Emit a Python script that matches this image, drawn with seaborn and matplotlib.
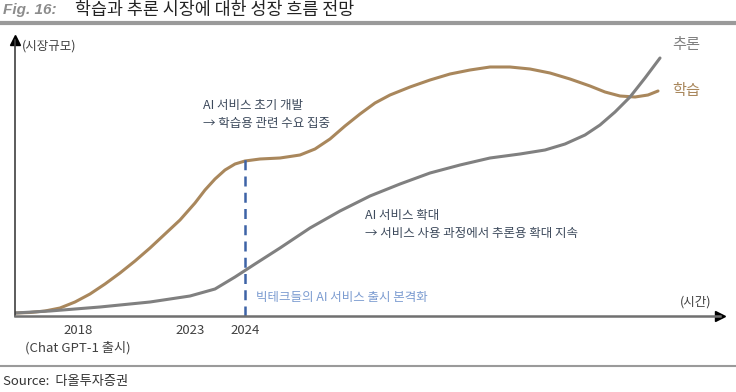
import pandas as pd
import matplotlib.pyplot as plt
import seaborn as sns

# 곡선 데이터 (상대적 시장규모, 임의 단위)
learn_x = [0, 15, 30, 45, 60, 75, 90, 105, 120, 135, 150, 165, 180, 190, 200, 210, 220, 230, 245, 265, 285,
           300, 315, 330, 345, 360, 375, 395, 415, 435, 455, 475, 495, 515, 535, 555, 575, 590, 605, 620, 633, 643]
learn_y = [3, 3.5, 5, 8, 14, 22, 32, 43, 55, 68, 82, 96, 113, 126, 137, 146, 152, 155, 157, 158, 161,
           167, 177, 190, 202, 213, 221, 229, 236, 242, 246, 249, 249, 247, 243, 237, 230, 224, 220, 219, 221, 225]
infer_x = [0, 35, 85, 135, 175, 200, 220, 240, 265, 295, 325, 355, 385, 415, 445, 475, 505, 530, 550, 570,
           585, 600, 615, 630, 645]
infer_y = [3, 5, 9, 14, 20, 27, 39, 52, 68, 88, 105, 120, 132, 143, 151, 158, 162, 166, 172, 181,
           191, 204, 219, 238, 258]

tick_pos = [63, 175, 230]
tick_labels = ['2018\n(Chat GPT-1 출시)', '2023', '2024']
launch_x = 230
launch_top = 161

c_learn = '#a9875c'
c_infer = '#808080'

df = pd.concat([
    pd.DataFrame({'x': learn_x, 'y': learn_y, '구분': '학습'}),
    pd.DataFrame({'x': infer_x, 'y': infer_y, '구분': '추론'}),
])

sns.set_theme(style='white')
plt.rcParams['font.family'] = ['Noto Sans CJK KR', 'DejaVu Sans']

fig = plt.figure(figsize=(7.36, 3.92), dpi=100)
ax = fig.add_axes([15 / 736, 76 / 392, 705 / 736, 276 / 392])

sns.lineplot(data=df, x='x', y='y', hue='구분', palette={'학습': c_learn, '추론': c_infer},
             linewidth=2.2, legend=False, ax=ax, sort=False)

ax.plot([launch_x, launch_x], [0, launch_top], color='#3d63a6', lw=1.8, ls=(0, (4, 2.5)))

ax.set_xlim(0, 705)
ax.set_ylim(0, 276)
ax.set_xlabel('')
ax.set_ylabel('')
ax.set_yticks([])
ax.set_xticks(tick_pos)
ax.set_xticklabels(tick_labels, fontsize=9.5, color='#404040', linespacing=1.4)
ax.tick_params(axis='x', length=0, pad=6)

for s in ['top', 'right']:
    ax.spines[s].set_visible(False)
ax.spines['left'].set_color('#404040')
ax.spines['left'].set_linewidth(1.2)
ax.spines['bottom'].set_color('#707070')
ax.spines['bottom'].set_linewidth(1.8)
ax.plot(1, 0, '>', color='black', ms=7, transform=ax.transAxes, clip_on=False)
ax.plot(0, 1, '^', color='black', ms=7, transform=ax.transAxes, clip_on=False)

txt = dict(fontsize=9, va='center', ha='left')
ax.text(7, 270, '(시장규모)', color='#404040', **txt)
ax.text(665, 14, '(시간)', color='#404040', **txt)
ax.text(188, 210, 'AI 서비스 초기 개발', color='#3d4a5c', **txt)
ax.text(188, 193, '→ 학습용 관련 수요 집중', color='#3d4a5c', **txt)
ax.text(350, 101, 'AI 서비스 확대', color='#3d4a5c', **txt)
ax.text(350, 83, '→ 서비스 사용 과정에서 추론용 확대 지속', color='#3d4a5c', **txt)
ax.text(241, 19, '빅테크들의 AI 서비스 출시 본격화', color='#7b9bd0', **txt)
ax.text(657, 272, '추론', color='#808080', fontsize=11, va='center', ha='left')
ax.text(657, 226, '학습', color=c_learn, fontsize=11, va='center', ha='left')

# 제목 / 출처
fig.text(3 / 736, 1 - 10 / 392, 'Fig. 16:', fontsize=11, fontweight='bold', fontstyle='italic',
         color='#8c8c8c', family=['Liberation Sans', 'DejaVu Sans'], va='center')
fig.text(75 / 736, 1 - 10 / 392, '학습과 추론 시장에 대한 성장 흐름 전망', fontsize=12.5,
         color='#222222', va='center')
fig.add_artist(plt.Line2D([0, 1], [1 - 23 / 392, 1 - 23 / 392], color='#9a9a9a', lw=3))
fig.add_artist(plt.Line2D([0, 1], [1 - 366 / 392, 1 - 366 / 392], color='#9a9a9a', lw=1.5))
fig.text(3 / 736, 1 - 381 / 392, 'Source:  다올투자증권', fontsize=9.5, color='#333333', va='center')

fig.savefig('out.png', dpi=100)
